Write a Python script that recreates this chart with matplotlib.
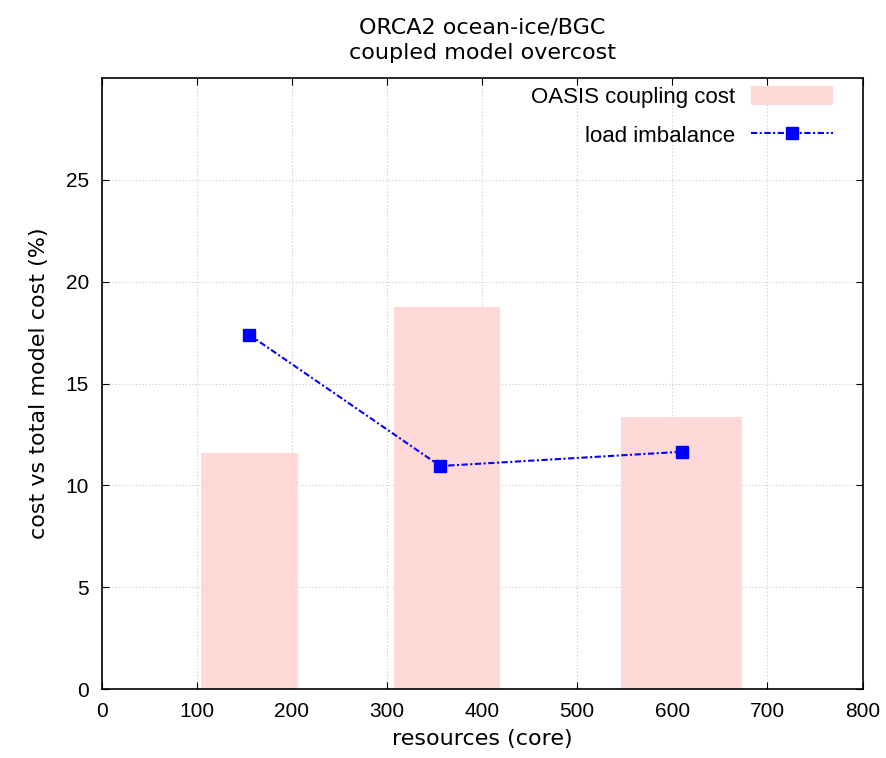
import matplotlib
matplotlib.use("Agg")
import matplotlib.pyplot as plt

# ── Data ─────────────────────────────────────────────────────
bar_left  = [105, 307, 546]
bar_right = [206, 419, 673]
oasis_cost = [11.6, 18.75, 13.35]

cores     = [155, 356, 610]
imbalance = [17.4, 10.95, 11.65]

x_ticks = [0, 100, 200, 300, 400, 500, 600, 700, 800]
y_ticks = [0, 5, 10, 15, 20, 25]

# ── Plot ─────────────────────────────────────────────────────
plt.rcParams["font.family"] = ["Liberation Sans Narrow", "Liberation Sans", "DejaVu Sans"]

fig = plt.figure(figsize=(8.86, 7.58), dpi=100)
ax = fig.add_axes([0.1147, 0.091, 0.8588, 0.806])

widths = [r - l for l, r in zip(bar_left, bar_right)]
bars = ax.bar(bar_left, oasis_cost, width=widths, align="edge",
              color="#ffd8d8", edgecolor="none", label="OASIS coupling cost", zorder=2)
line, = ax.plot(cores, imbalance, color="blue", lw=1.5, ls=(0, (3, 1.2, 1, 1.2)),
                marker="s", ms=8, label="load imbalance", zorder=3)

ax.set_xlim(0, 800)
ax.set_ylim(0, 30)
ax.set_xticks(x_ticks)
ax.set_yticks(y_ticks)
ax.tick_params(direction="in", top=True, right=True, labelsize=15, length=5, pad=9)
ax.grid(True, ls=(0, (1, 2)), color="#c8c8c8", lw=0.8, zorder=0)
ax.set_axisbelow(True)
for s in ax.spines.values():
    s.set_linewidth(1.2)

ax.set_xlabel("resources (core)", fontsize=16, family=["URW Gothic", "DejaVu Sans"], labelpad=6)
ax.set_ylabel("cost vs total model cost (%)", fontsize=16, family=["URW Gothic", "DejaVu Sans"], labelpad=12)
ax.set_title("ORCA2 ocean-ice/BGC\ncoupled model overcost", fontsize=16,
             family=["URW Gothic", "DejaVu Sans"], pad=14, linespacing=1.3)

ax.legend([bars, line], ["OASIS coupling cost", "load imbalance"],
          loc="upper right", bbox_to_anchor=(0.982, 1.012), frameon=False,
          markerfirst=False, fontsize=16, handlelength=3.7, handleheight=0.9,
          labelspacing=0.75, borderaxespad=0.3, handletextpad=0.7)

fig.savefig("out.png", dpi=100)
